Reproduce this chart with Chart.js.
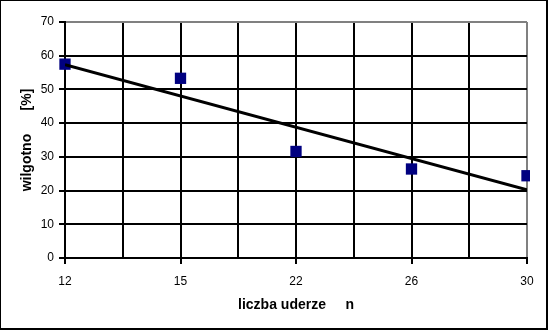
<!DOCTYPE html>
<html>
<head>
<meta charset="utf-8">
<script src="https://cdn.jsdelivr.net/npm/chart.js@4"></script>
<style>
  body { margin: 0; background: #fff; }
  #wrap { position: relative; width: 548px; height: 330px; }
  #frame {
    position: absolute; left: 0; top: 0; width: 548px; height: 330px;
    box-sizing: border-box; pointer-events: none;
    border-left: 1px solid #000; border-top: 1px solid #000;
    border-right: 2px solid #000; border-bottom: 2px solid #000;
  }
</style>
</head>
<body>
<div id="wrap">
  <canvas id="chart" width="548" height="330"></canvas>
  <div id="frame"></div>
</div>
<script>
// Dane
const categories = ['12', '15', '22', '26', '30'];
const moisture = [57.5, 53.3, 31.6, 26.4, 24.4];
const trendValues = [57.3, 20.2];   // linia trendu: początek i koniec
const yTicks = [0, 10, 20, 30, 40, 50, 60, 70];

const FONT = 'Arial, "Liberation Sans", sans-serif';

// punkty na osi kategorii (indeksy 0..4)
const points = moisture.map((v, i) => ({ x: i, y: v }));
const trend = [
    { x: 0, y: trendValues[0] },
    { x: categories.length - 1, y: trendValues[1] }
];

new Chart(document.getElementById('chart'), {
    type: 'scatter',
    data: {
        datasets: [
            {
                type: 'line',
                data: trend,
                borderColor: '#000',
                borderWidth: 3,
                pointRadius: 0,
                fill: false
            },
            {
                data: points,
                pointStyle: 'rect',
                pointRadius: 8,
                backgroundColor: '#000080',
                borderColor: '#000080',
                borderWidth: 0,
                clip: { left: 8, top: 8, right: 3, bottom: 8 }
            }
        ]
    },
    options: {
        responsive: false,
        animation: false,
        plugins: {
            legend: { display: false },
            tooltip: { enabled: false }
        },
        layout: { padding: { top: 22, right: 21, left: 0, bottom: 0 } },
        scales: {
            x: {
                type: 'linear',
                min: 0,
                max: categories.length - 1,
                afterFit: s => { s.height = 72; },
                border: { display: true, color: '#000', width: 2 },
                grid: {
                    color: ctx => ctx.tick && ctx.tick.value === categories.length - 1 ? '#808080' : '#000',
                    lineWidth: 2,
                    tickLength: 6,
                    tickColor: ctx => Number.isInteger(ctx.tick.value) ? '#000' : 'rgba(0,0,0,0)'
                },
                ticks: {
                    stepSize: 0.5,
                    autoSkip: false,
                    maxRotation: 0,
                    padding: 10,
                    color: '#000',
                    font: { family: FONT, size: 12 },
                    callback: v => Number.isInteger(v) ? categories[v] : ''
                },
                title: {
                    display: true,
                    text: 'liczba uderze     n',
                    color: '#000',
                    font: { family: FONT, size: 14, weight: 'bold' },
                    padding: { top: 0, bottom: 16 }
                }
            },
            y: {
                min: yTicks[0],
                max: yTicks[yTicks.length - 1],
                afterFit: s => { s.width = 65; },
                afterBuildTicks: s => { s.ticks = yTicks.map(v => ({ value: v })); },
                border: { display: true, color: '#000', width: 2 },
                grid: {
                    color: ctx => ctx.tick && ctx.tick.value === yTicks[yTicks.length - 1] ? '#808080' : '#000',
                    lineWidth: 2,
                    tickLength: 6,
                    tickColor: '#000'
                },
                ticks: {
                    padding: 5,
                    color: '#000',
                    font: { family: FONT, size: 12 }
                },
                title: {
                    display: true,
                    text: 'wilgotno      [%]',
                    color: '#000',
                    font: { family: FONT, size: 14, weight: 'bold' },
                    padding: { top: 19, bottom: 0 }
                }
            }
        }
    }
});
</script>
</body>
</html>
